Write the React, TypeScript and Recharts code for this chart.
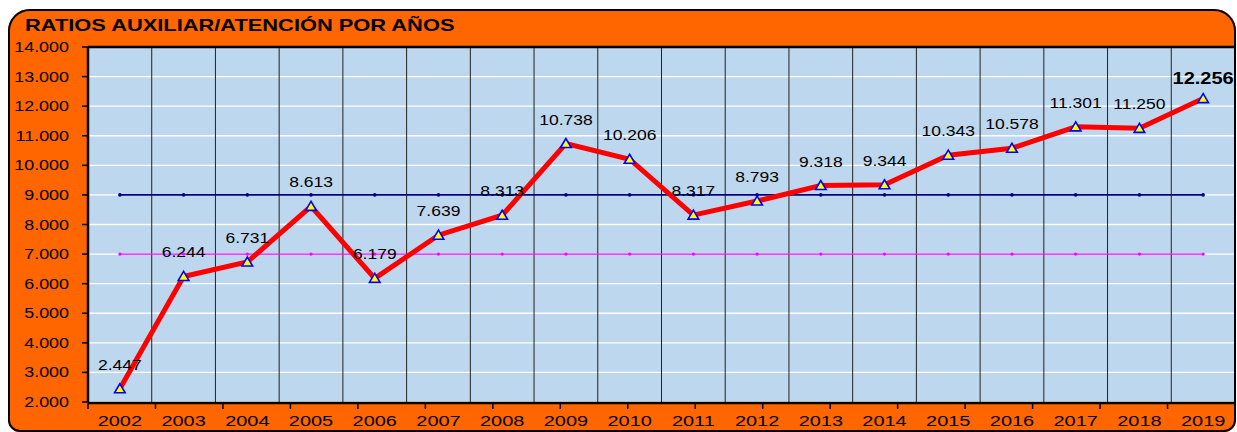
import React from 'react';
import { ComposedChart, Line, XAxis, YAxis, CartesianGrid, ReferenceLine, LabelList } from 'recharts';

const FONT = '"Liberation Sans", Arial, Helvetica, sans-serif';

const title = 'RATIOS AUXILIAR/ATENCIÓN POR AÑOS';
const years = ['2002', '2003', '2004', '2005', '2006', '2007', '2008', '2009', '2010', '2011', '2012', '2013', '2014', '2015', '2016', '2017', '2018', '2019'];
const ratios = [2.447, 6.244, 6.731, 8.613, 6.179, 7.639, 8.313, 10.738, 10.206, 8.317, 8.793, 9.318, 9.344, 10.343, 10.578, 11.301, 11.25, 12.256];
const upperLevel = [9, 9, 9, 9, 9, 9, 9, 9, 9, 9, 9, 9, 9, 9, 9, 9, 9, 9];
const lowerLevel = [7, 7, 7, 7, 7, 7, 7, 7, 7, 7, 7, 7, 7, 7, 7, 7, 7, 7];
const yTicks = [2, 3, 4, 5, 6, 7, 8, 9, 10, 11, 12, 13, 14];
const boundaryTicks = [0, 1, 2, 3, 4, 5, 6, 7, 8, 9, 10, 11, 12, 13, 14, 15, 16, 17, 18];

const data = years.map((year, i) => ({
  year,
  ratio: ratios[i],
  upper: upperLevel[i],
  lower: lowerLevel[i],
}));

const YTick = (props: any) => {
  const { x, y, payload } = props;
  return (
    <text
      transform={`translate(${x},${y}) scale(1.28,1)`}
      textAnchor="end"
      dy="0.36em"
      fontSize={14}
      fontFamily={FONT}
      fill="#000"
    >
      {Number(payload.value).toFixed(3)}
    </text>
  );
};

const XTick = (props: any) => {
  const { x, y, payload } = props;
  return (
    <text
      transform={`translate(${x},${y}) scale(1.33,1)`}
      textAnchor="middle"
      dy="0.71em"
      fontSize={15}
      fontFamily={FONT}
      fill="#000"
    >
      {payload.value}
    </text>
  );
};

const RatioLabel = (props: any) => {
  const x = props.x ?? props.viewBox?.x;
  const y = props.y ?? props.viewBox?.y;
  const { value, index } = props;
  const last = index === ratios.length - 1;
  return (
    <text
      transform={`translate(${x},${y - (last ? 14.6 : 19)}) scale(1.25,1)`}
      textAnchor="middle"
      fontSize={last ? 16 : 14}
      fontWeight={last ? 'bold' : 'normal'}
      fontFamily={FONT}
      fill="#000"
    >
      {Number(value).toFixed(3)}
    </text>
  );
};

const TriDot = (props: any) => {
  const { cx, cy, index } = props;
  if (cx == null || cy == null) return <g key={`t-${index}`} />;
  return (
    <polygon
      key={`t-${index}`}
      points={`${cx},${cy - 5} ${cx - 5.3},${cy + 4} ${cx + 5.3},${cy + 4}`}
      fill="#FFFF00"
      stroke="#0000FF"
      strokeWidth={1.6}
      strokeLinejoin="miter"
    />
  );
};

export default function App() {
  return (
    <div style={{ position: 'absolute', left: 0, top: 0, width: 1237, height: 432, overflow: 'hidden' }}>
      <div
        style={{
          position: 'absolute',
          left: 8,
          top: 9,
          width: 1228,
          height: 423,
          background: '#FF6600',
          borderRadius: '22px 22px 12px 12px',
        }}
      />
      <div style={{ position: 'absolute', left: 0, top: 0 }}>
        <ComposedChart width={1237} height={432} data={data} margin={{ top: 47, right: 2, bottom: 28, left: 0 }}>
          <CartesianGrid vertical={false} stroke="#FFFFFF" strokeWidth={1.3} fill="#BDD7EE" fillOpacity={1} />
          {years.slice(1).map((yr) => (
            <ReferenceLine key={yr} x={yr} position="start" stroke="#222222" strokeWidth={1} />
          ))}
          <XAxis
            dataKey="year"
            scale="band"
            interval={0}
            height={1}
            tick={<XTick />}
            tickLine={false}
            tickSize={6}
            tickMargin={7}
            axisLine={false}
          />
          <XAxis
            xAxisId="b"
            type="number"
            domain={[0, 18]}
            ticks={boundaryTicks}
            interval={0}
            height={1}
            tickFormatter={() => ''}
            tickSize={6}
            tickLine={{ stroke: '#000', strokeWidth: 1.5 }}
            axisLine={{ stroke: '#000', strokeWidth: 2.5 }}
            allowDataOverflow
          />
          <YAxis
            width={88}
            domain={[2, 14]}
            ticks={yTicks}
            interval={0}
            allowDataOverflow
            tick={<YTick />}
            tickSize={6}
            tickMargin={13}
            tickLine={{ stroke: '#000', strokeWidth: 1.5 }}
            axisLine={{ stroke: '#000', strokeWidth: 2.5 }}
          />
          <ReferenceLine y={14} stroke="#000" strokeWidth={2.5} />
          <Line
            dataKey="upper"
            stroke="#000080"
            strokeWidth={1.7}
            dot={{ r: 1.8, fill: '#000080', stroke: '#000080', strokeWidth: 0 }}
            activeDot={false}
            isAnimationActive={false}
          />
          <Line
            dataKey="lower"
            stroke="#FF00FF"
            strokeWidth={1.4}
            dot={{ r: 1.6, fill: '#FF00FF', stroke: '#FF00FF', strokeWidth: 0 }}
            activeDot={false}
            isAnimationActive={false}
          />
          <Line
            dataKey="ratio"
            stroke="#FF0000"
            strokeWidth={5}
            strokeLinejoin="miter"
            dot={TriDot}
            activeDot={false}
            isAnimationActive={false}
          >
            <LabelList dataKey="ratio" content={RatioLabel} />
          </Line>
        </ComposedChart>
      </div>
      <div
        style={{
          position: 'absolute',
          left: 8,
          top: 9,
          width: 1228,
          height: 423,
          boxSizing: 'border-box',
          border: '2.5px solid #000',
          borderRadius: '22px 22px 12px 12px',
          pointerEvents: 'none',
        }}
      />
      <svg width={1237} height={432} style={{ position: 'absolute', left: 0, top: 0, pointerEvents: 'none' }}>
        <text
          transform="translate(25,31.3) scale(1.34,1)"
          fontSize={16.3}
          fontWeight="bold"
          fontFamily={FONT}
          fill="#000"
        >
          {title}
        </text>
      </svg>
    </div>
  );
}
